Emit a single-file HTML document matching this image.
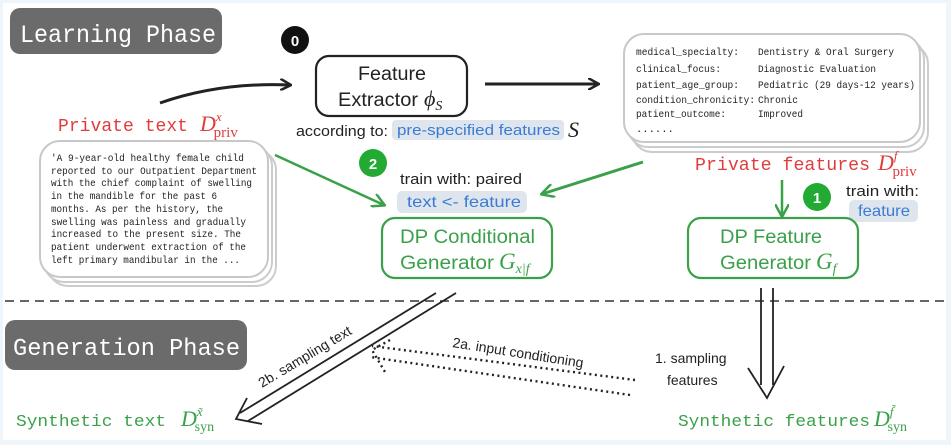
<!DOCTYPE html>
<html><head><meta charset="utf-8"><style>
html,body{margin:0;padding:0;background:#eef6fb;}
svg{display:block}
.mono{font-family:"Liberation Mono",monospace;}
.sans{font-family:"Liberation Sans",sans-serif;}
.serif{font-family:"Liberation Serif",serif;font-style:italic;}
</style></head><body>
<svg width="951" height="445" viewBox="0 0 951 445" xmlns="http://www.w3.org/2000/svg">
<defs>
<marker id="ab" markerWidth="12" markerHeight="12" refX="10" refY="6" orient="auto" markerUnits="userSpaceOnUse"><path d="M0,0 L11,6 L0,12" fill="none" stroke="#222" stroke-width="2.5"/></marker>
<marker id="ag" markerWidth="14" markerHeight="14" refX="12" refY="7" orient="auto" markerUnits="userSpaceOnUse"><path d="M0,0 L13,7 L0,14" fill="none" stroke="#3aa14a" stroke-width="2.5"/></marker>
</defs>
<rect x="3" y="3" width="943" height="437" fill="#fff"/>
<!-- Learning phase -->
<rect x="10" y="8" width="212" height="46" rx="10" fill="#6b6b6b"/>
<text x="20" y="42" class="mono" font-size="25" fill="#fff" textLength="196" lengthAdjust="spacingAndGlyphs">Learning Phase</text>
<circle cx="295" cy="40" r="14" fill="#111"/>
<text x="295" y="46" class="sans" font-size="15" font-weight="bold" fill="#fff" text-anchor="middle">0</text>
<rect x="316" y="56" width="151" height="60" rx="13" fill="#fff" stroke="#222" stroke-width="2.2"/>
<text x="358" y="80" class="sans" font-size="19" fill="#222" textLength="68" lengthAdjust="spacingAndGlyphs">Feature</text>
<text x="338" y="106" class="sans" font-size="19" fill="#222" textLength="80" lengthAdjust="spacingAndGlyphs">Extractor</text>
<text x="424" y="106" class="serif" font-size="22" fill="#222">ϕ<tspan font-size="14" dy="4">S</tspan></text>
<path d="M160,103 Q220,82 290,85" fill="none" stroke="#222" stroke-width="3" marker-end="url(#ab)"/>
<text x="296" y="136" class="sans" font-size="15" fill="#222" textLength="92" lengthAdjust="spacingAndGlyphs">according to:</text>
<rect x="392" y="120" width="172" height="20" rx="4" fill="#dfe5ec"/>
<text x="397" y="135" class="sans" font-size="15" fill="#3a7bd5" textLength="163" lengthAdjust="spacingAndGlyphs">pre-specified features</text>
<text x="568" y="137" class="serif" font-size="22" fill="#222">S</text>
<!-- private text -->
<text x="58" y="131" class="mono" font-size="18" fill="#e03c3c" textLength="130" lengthAdjust="spacingAndGlyphs">Private text</text>
<text x="200" y="131" class="serif" font-size="22" fill="#e03c3c">D<tspan font-size="13" dy="-10">x</tspan><tspan font-family="Liberation Serif" font-style="normal" font-size="15" dx="-8" dy="16">priv</tspan></text>
<rect x="48" y="150" width="228" height="136" rx="20" fill="#fff" stroke="#ccc" stroke-width="2"/>
<rect x="44" y="146" width="228" height="136" rx="20" fill="#fff" stroke="#ccc" stroke-width="2"/>
<rect x="40" y="141" width="228" height="136" rx="20" fill="#fff" stroke="#c8c8c8" stroke-width="2"/>
<g class="mono" font-size="10.5" fill="#222">
<text x="51" y="161" textLength="193" lengthAdjust="spacingAndGlyphs">'A 9-year-old healthy female child</text>
<text x="51" y="174" textLength="206" lengthAdjust="spacingAndGlyphs">reported to our Outpatient Department</text>
<text x="51" y="186" textLength="201" lengthAdjust="spacingAndGlyphs">with the chief complaint of swelling</text>
<text x="51" y="199" textLength="166" lengthAdjust="spacingAndGlyphs">in the mandible for the past 6</text>
<text x="51" y="212" textLength="172" lengthAdjust="spacingAndGlyphs">months. As per the history, the</text>
<text x="51" y="225" textLength="195" lengthAdjust="spacingAndGlyphs">swelling was painless and gradually</text>
<text x="51" y="237" textLength="190" lengthAdjust="spacingAndGlyphs">increased to the present size. The</text>
<text x="51" y="250" textLength="195" lengthAdjust="spacingAndGlyphs">patient underwent extraction of the</text>
<text x="51" y="263" textLength="189" lengthAdjust="spacingAndGlyphs">left primary mandibular in the ...</text>
</g>
<line x1="275" y1="155" x2="384" y2="205" stroke="#3aa14a" stroke-width="2.5" marker-end="url(#ag)"/>
<circle cx="373" cy="163" r="14" fill="#22aa33"/>
<text x="373" y="169" class="sans" font-size="15" font-weight="bold" fill="#fff" text-anchor="middle">2</text>
<text x="400" y="184" class="sans" font-size="15" fill="#222" textLength="122" lengthAdjust="spacingAndGlyphs">train with: paired</text>
<rect x="397" y="191" width="130" height="22" rx="5" fill="#dfe5ec"/>
<text x="407" y="207" class="sans" font-size="16" fill="#3a7bd5" textLength="114" lengthAdjust="spacingAndGlyphs">text &lt;- feature</text>
<rect x="382" y="218" width="170" height="60" rx="13" fill="#fff" stroke="#3aa14a" stroke-width="2.2"/>
<text x="400" y="243" class="sans" font-size="19" fill="#3aa14a" textLength="135" lengthAdjust="spacingAndGlyphs">DP Conditional</text>
<text x="400" y="269" class="sans" font-size="19" fill="#3aa14a" textLength="94" lengthAdjust="spacingAndGlyphs">Generator</text>
<text x="499" y="269" class="serif" font-size="23" fill="#3aa14a">G<tspan font-size="14" dy="4">x|f</tspan></text>
<!-- features -->
<line x1="485" y1="84" x2="598" y2="84" stroke="#222" stroke-width="3" marker-end="url(#ab)"/>
<rect x="632" y="44" width="296" height="108" rx="20" fill="#fff" stroke="#ccc" stroke-width="2"/>
<rect x="628" y="39" width="296" height="108" rx="20" fill="#fff" stroke="#ccc" stroke-width="2"/>
<rect x="624" y="34" width="296" height="108" rx="20" fill="#fff" stroke="#c8c8c8" stroke-width="2"/>
<g class="mono" font-size="10.5" fill="#222">
<text x="636" y="55" textLength="103" lengthAdjust="spacingAndGlyphs">medical_specialty:</text><text x="758" y="55" textLength="136" lengthAdjust="spacingAndGlyphs">Dentistry &amp; Oral Surgery</text>
<text x="636" y="72" textLength="85" lengthAdjust="spacingAndGlyphs">clinical_focus:</text><text x="758" y="72" textLength="118" lengthAdjust="spacingAndGlyphs">Diagnostic Evaluation</text>
<text x="636" y="88" textLength="103" lengthAdjust="spacingAndGlyphs">patient_age_group:</text><text x="758" y="88" textLength="157" lengthAdjust="spacingAndGlyphs">Pediatric (29 days-12 years)</text>
<text x="636" y="103" textLength="119" lengthAdjust="spacingAndGlyphs">condition_chronicity:</text><text x="758" y="103" textLength="40" lengthAdjust="spacingAndGlyphs">Chronic</text>
<text x="636" y="117" textLength="90" lengthAdjust="spacingAndGlyphs">patient_outcome:</text><text x="758" y="117" textLength="45" lengthAdjust="spacingAndGlyphs">Improved</text>
<text x="636" y="132">......</text>
</g>
<text x="695" y="170" class="mono" font-size="18" fill="#e03c3c" textLength="175" lengthAdjust="spacingAndGlyphs">Private features</text>
<text x="878" y="170" class="serif" font-size="22" fill="#e03c3c">D<tspan font-size="13" dy="-10">f</tspan><tspan font-family="Liberation Serif" font-style="normal" font-size="15" dx="-5" dy="16">priv</tspan></text>
<line x1="643" y1="162" x2="542" y2="194" stroke="#3aa14a" stroke-width="3" marker-end="url(#ag)"/>
<line x1="782" y1="180" x2="782" y2="216" stroke="#3aa14a" stroke-width="2.5" marker-end="url(#ag)"/>
<circle cx="817" cy="197" r="14" fill="#22aa33"/>
<text x="817" y="203" class="sans" font-size="15" font-weight="bold" fill="#fff" text-anchor="middle">1</text>
<text x="846" y="196" class="sans" font-size="15" fill="#222" textLength="73" lengthAdjust="spacingAndGlyphs">train with:</text>
<rect x="849" y="200" width="69" height="22" rx="5" fill="#dfe5ec"/>
<text x="858" y="216" class="sans" font-size="16" fill="#3a7bd5" textLength="52" lengthAdjust="spacingAndGlyphs">feature</text>
<rect x="688" y="218" width="170" height="60" rx="13" fill="#fff" stroke="#3aa14a" stroke-width="2.2"/>
<text x="720" y="243" class="sans" font-size="19" fill="#3aa14a" textLength="102" lengthAdjust="spacingAndGlyphs">DP Feature</text>
<text x="720" y="269" class="sans" font-size="19" fill="#3aa14a" textLength="91" lengthAdjust="spacingAndGlyphs">Generator</text>
<text x="816" y="269" class="serif" font-size="23" fill="#3aa14a">G<tspan font-size="14" dy="4">f</tspan></text>
<!-- divider -->
<line x1="5" y1="301" x2="945" y2="301" stroke="#333" stroke-width="1.6" stroke-dasharray="9,6"/>
<rect x="5" y="320" width="242" height="50" rx="10" fill="#6b6b6b"/>
<text x="13" y="355" class="mono" font-size="24" fill="#fff" textLength="227" lengthAdjust="spacingAndGlyphs">Generation Phase</text>
<!-- 2b -->
<line x1="436" y1="293" x2="240" y2="413" stroke="#222" stroke-width="1.8"/>
<line x1="456" y1="293" x2="248" y2="421" stroke="#222" stroke-width="1.8"/>
<path d="M247,398 L236,419 L262,424" fill="none" stroke="#222" stroke-width="1.8"/>
<text transform="translate(262,388) rotate(-31)" class="sans" font-size="14" fill="#222">2b. sampling text</text>
<!-- 2a dotted -->
<line x1="635" y1="380" x2="372" y2="346" stroke="#222" stroke-width="2.4" stroke-dasharray="2,3.5"/>
<line x1="630" y1="395" x2="370" y2="357" stroke="#222" stroke-width="2.4" stroke-dasharray="2,3.5"/>
<path d="M390,340 L372,350 L385,372" fill="none" stroke="#222" stroke-width="2.4" stroke-dasharray="2,3.5"/>
<text transform="translate(452,347) rotate(9)" class="sans" font-size="14" fill="#222">2a. input conditioning</text>
<!-- 1 sampling -->
<line x1="761" y1="288" x2="761" y2="385" stroke="#222" stroke-width="1.8"/>
<line x1="773" y1="288" x2="773" y2="385" stroke="#222" stroke-width="1.8"/>
<path d="M748,368 L767,398 L784,366" fill="none" stroke="#222" stroke-width="1.8"/>
<text x="655" y="363" class="sans" font-size="14" fill="#222">1. sampling</text>
<text x="667" y="385" class="sans" font-size="14" fill="#222">features</text>
<text x="16" y="426" class="mono" font-size="17" fill="#3aa14a" textLength="150" lengthAdjust="spacingAndGlyphs">Synthetic text</text>
<text x="181" y="426" class="serif" font-size="22" fill="#3aa14a">D<tspan font-size="13" dy="-10">x̃</tspan><tspan font-family="Liberation Serif" font-style="normal" font-size="14" dx="-8" dy="15">syn</tspan></text>
<text x="678" y="426" class="mono" font-size="17" fill="#3aa14a" textLength="192" lengthAdjust="spacingAndGlyphs">Synthetic features</text>
<text x="874" y="426" class="serif" font-size="22" fill="#3aa14a">D<tspan font-size="13" dy="-10">f̃</tspan><tspan font-family="Liberation Serif" font-style="normal" font-size="14" dx="-6" dy="15">syn</tspan></text>
</svg>
</body></html>
